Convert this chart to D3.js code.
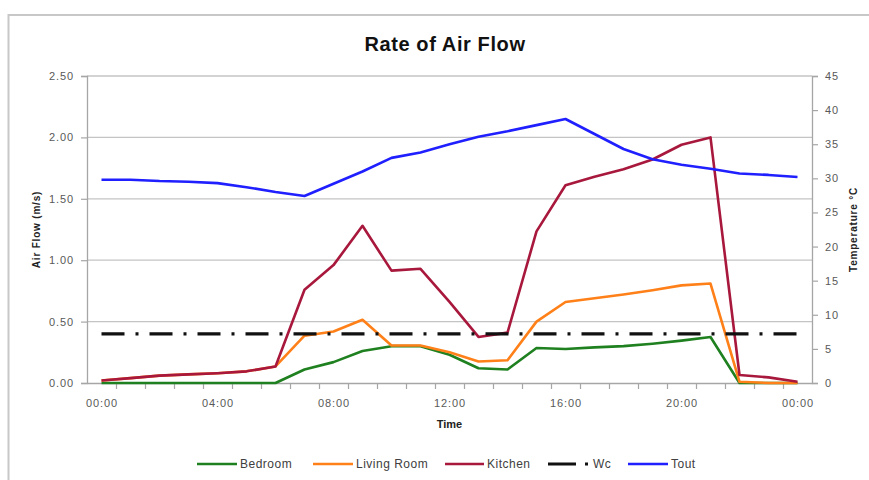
<!DOCTYPE html>
<html lang="en">
<head>
<meta charset="UTF-8">
<title>Rate of Air Flow</title>
<script src="https://d3js.org/d3.v7.min.js"></script>
<style>
  body { margin: 0; background: #fff; }
  text { font-family: "Liberation Sans", Arial, sans-serif; }
</style>
</head>
<body>
<svg width="869" height="480"></svg>
<script>
// hours of the day (0 .. 24, last one is midnight of the next day)
const hours = [0, 1, 2, 3, 4, 5, 6, 7, 8, 9, 10, 11, 12, 13, 14, 15, 16, 17, 18, 19, 20, 21, 22, 23, 24];

// air flow (m/s)
const bedroom = [0, 0, 0, 0, 0, 0, 0, 0.11, 0.17, 0.26, 0.30, 0.30, 0.23, 0.12, 0.11, 0.285, 0.277, 0.29, 0.30, 0.32, 0.345, 0.375, 0, 0, 0];
const livingRoom = [0.02, 0.04, 0.06, 0.07, 0.08, 0.095, 0.135, 0.385, 0.42, 0.515, 0.305, 0.305, 0.25, 0.175, 0.185, 0.50, 0.66, 0.69, 0.72, 0.755, 0.795, 0.81, 0.01, 0, 0];
const kitchen = [0.02, 0.04, 0.06, 0.07, 0.08, 0.095, 0.135, 0.76, 0.96, 1.28, 0.915, 0.93, 0.66, 0.375, 0.41, 1.235, 1.61, 1.68, 1.74, 1.82, 1.94, 2.00, 0.065, 0.046, 0.01];
const wc = [0.4, 0.4, 0.4, 0.4, 0.4, 0.4, 0.4, 0.4, 0.4, 0.4, 0.4, 0.4, 0.4, 0.4, 0.4, 0.4, 0.4, 0.4, 0.4, 0.4, 0.4, 0.4, 0.4, 0.4, 0.4];

// outside temperature (°C)
const tout = [29.8, 29.8, 29.6, 29.5, 29.3, 28.7, 28.0, 27.4, 29.2, 31.0, 33.0, 33.8, 35.0, 36.1, 36.9, 37.8, 38.7, 36.5, 34.3, 32.8, 32.0, 31.4, 30.7, 30.5, 30.2];

const flowTicks = [0, 0.5, 1.0, 1.5, 2.0, 2.5];
const tempTicks = [0, 5, 10, 15, 20, 25, 30, 35, 40, 45];
const timeLabels = [0, 4, 8, 12, 16, 20, 24];
const minorTicks = [0.5, 1.5, 2.5, 3.5, 4.5, 5.5, 6.5, 7.5, 8.5, 9.5, 10.5, 11.5, 12.5, 13.5, 14.5, 15.5, 16.5, 17.5, 18.5, 19.5, 20.5, 21.5, 22.5, 23.5];

const svg = d3.select("svg");

// chart border
svg.append("rect")
    .attr("x", 8.5).attr("y", 15)
    .attr("width", 900).attr("height", 500)
    .attr("fill", "none")
    .attr("stroke", "#c8c8c8")
    .attr("stroke-width", 2);

const plotLeft = 87, plotRight = 812, plotTop = 76, plotBottom = 383;

const x = d3.scaleLinear().domain([-0.5, 24.5]).range([plotLeft, plotRight]);
const yFlow = d3.scaleLinear().domain([0, 2.5]).range([plotBottom, plotTop]);
const yTemp = d3.scaleLinear().domain([0, 45]).range([plotBottom, plotTop]);

const axisGray = "#a6a6a6";
const labelGray = "#595959";

// gridlines
svg.append("g")
    .selectAll("line")
    .data(flowTicks.slice(1))
    .join("line")
    .attr("x1", plotLeft).attr("x2", plotRight)
    .attr("y1", d => yFlow(d)).attr("y2", d => yFlow(d))
    .attr("stroke", "#c4c4c4")
    .attr("stroke-width", 1.3);

// left axis
const gLeft = svg.append("g")
    .attr("transform", `translate(${plotLeft},0)`)
    .call(d3.axisLeft(yFlow).tickValues(flowTicks).tickFormat(d3.format(".2f")).tickSize(6).tickPadding(7));

// right axis
const gRight = svg.append("g")
    .attr("transform", `translate(${plotRight},0)`)
    .call(d3.axisRight(yTemp).tickValues(tempTicks).tickSize(6).tickPadding(7));

// bottom axis: minor ticks between hours, labels every 4 hours
const gBottom = svg.append("g")
    .attr("transform", `translate(0,${plotBottom})`)
    .call(d3.axisBottom(x).tickValues(minorTicks).tickFormat("").tickSize(6).tickSizeOuter(0));

const gLabels = svg.append("g")
    .attr("transform", `translate(0,${plotBottom})`)
    .call(d3.axisBottom(x).tickValues(timeLabels)
        .tickFormat(h => String(h % 24).padStart(2, "0") + ":00")
        .tickSize(0).tickPadding(16));
gLabels.select(".domain").remove();

[gLeft, gRight, gBottom].forEach(g => {
    g.selectAll(".domain").attr("stroke", axisGray).attr("stroke-width", 1.3);
    g.selectAll(".tick line").attr("stroke", axisGray).attr("stroke-width", 1.2);
});
[gLeft, gRight, gLabels].forEach(g => {
    g.selectAll(".tick text")
        .attr("fill", labelGray)
        .style("font-size", "11px")
        .style("letter-spacing", "0.9px");
});

// axis titles
svg.append("text")
    .attr("x", (plotLeft + plotRight) / 2).attr("y", 428)
    .attr("text-anchor", "middle")
    .style("font-size", "11px").style("font-weight", "bold")
    .attr("fill", "#222")
    .text("Time");

svg.append("text")
    .attr("transform", `translate(40,${(plotTop + plotBottom) / 2}) rotate(-90)`)
    .attr("text-anchor", "middle")
    .style("font-size", "10px").style("font-weight", "bold")
    .style("letter-spacing", "0.8px")
    .attr("fill", "#222")
    .text("Air Flow  (m/s)");

svg.append("text")
    .attr("transform", `translate(857,${(plotTop + plotBottom) / 2}) rotate(-90)`)
    .attr("text-anchor", "middle")
    .style("font-size", "10px").style("font-weight", "bold")
    .style("letter-spacing", "0.8px")
    .attr("fill", "#222")
    .text("Temperature °C");

// title
svg.append("text")
    .attr("x", 445).attr("y", 51)
    .attr("text-anchor", "middle")
    .style("font-size", "20px").style("font-weight", "bold")
    .style("letter-spacing", "0.6px")
    .attr("fill", "#111")
    .text("Rate of Air Flow");

// series
const series = [
    { name: "Bedroom", values: bedroom, scale: yFlow, color: "#1f8020", dash: null },
    { name: "Living Room", values: livingRoom, scale: yFlow, color: "#ff8018", dash: null },
    { name: "Kitchen", values: kitchen, scale: yFlow, color: "#a8173c", dash: null },
    { name: "Wc", values: wc, scale: yFlow, color: "#111", dash: "23,11,3,11" },
    { name: "Tout", values: tout, scale: yTemp, color: "#1f1fff", dash: null }
];

series.forEach(s => {
    const line = d3.line()
        .x((d, i) => x(hours[i]))
        .y(d => s.scale(d));
    svg.append("path")
        .datum(s.values)
        .attr("d", line)
        .attr("fill", "none")
        .attr("stroke", s.color)
        .attr("stroke-width", s.dash ? 3.2 : 2.6)
        .attr("stroke-linejoin", "round")
        .attr("stroke-dasharray", s.dash);
});

// legend
const legendY = 464;
const legendItems = [
    { x: 197, len: 40 },
    { x: 313, len: 40 },
    { x: 445, len: 39 },
    { x: 548, len: 42, dash: "28,9,3,20" },
    { x: 628, len: 40 }
];
const legend = svg.append("g");
series.forEach((s, i) => {
    const it = legendItems[i];
    legend.append("line")
        .attr("x1", it.x).attr("x2", it.x + it.len)
        .attr("y1", legendY).attr("y2", legendY)
        .attr("stroke", s.color)
        .attr("stroke-width", s.dash ? 3.2 : 2.6)
        .attr("stroke-dasharray", it.dash || null);
    legend.append("text")
        .attr("x", it.x + it.len + 3)
        .attr("y", legendY + 4)
        .style("font-size", "12px")
        .style("letter-spacing", "0.5px")
        .attr("fill", "#404040")
        .text(s.name);
});
</script>
</body>
</html>
